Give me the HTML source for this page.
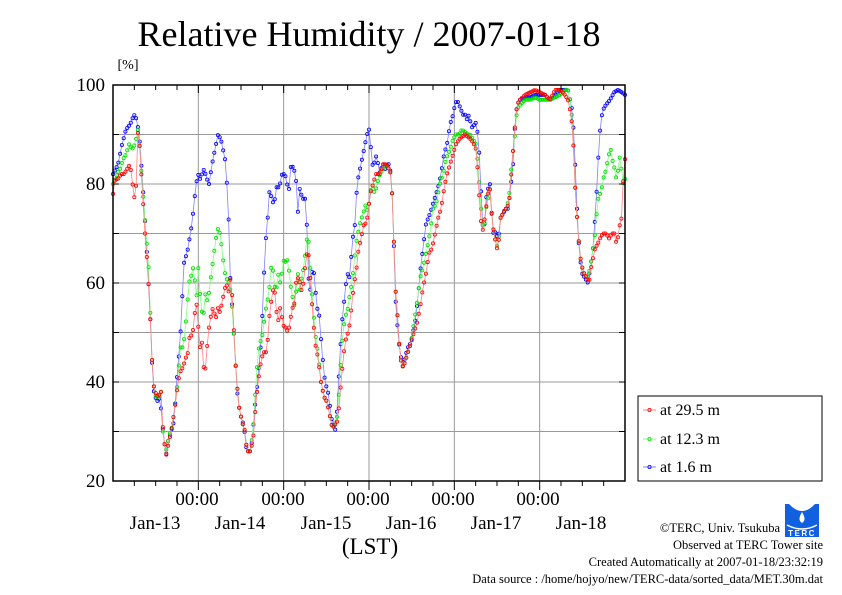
<!DOCTYPE html>
<html><head><meta charset="utf-8"><style>
html,body{margin:0;padding:0;background:#fff;}
svg{display:block;font-family:"Liberation Serif",serif;}
</style></head><body>
<svg id="s" width="842" height="595" viewBox="0 0 842 595" xmlns="http://www.w3.org/2000/svg">
<rect width="842" height="595" fill="#fff"/>
<text x="369" y="46" font-size="36" text-anchor="middle">Relative Humidity / 2007-01-18</text>
<text x="128" y="69" font-size="14" text-anchor="middle">[%]</text>
<g id="grid" stroke="#999" stroke-width="1"></g>
<g id="data"></g>
<rect x="113" y="85" width="512" height="396" fill="none" stroke="#000" stroke-width="1.5"/>
<g id="ticks" stroke="#000" stroke-width="1"></g>
<g font-size="19" text-anchor="end">
<text x="105" y="91">100</text><text x="105" y="190">80</text><text x="105" y="289">60</text><text x="105" y="388">40</text><text x="105" y="487">20</text>
</g>
<g font-size="19" text-anchor="middle">
<text x="197" y="505">00:00</text><text x="283" y="505">00:00</text><text x="368" y="505">00:00</text><text x="453" y="505">00:00</text><text x="538" y="505">00:00</text>
<text x="155" y="529">Jan-13</text><text x="240" y="529">Jan-14</text><text x="326" y="529">Jan-15</text><text x="411" y="529">Jan-16</text><text x="496" y="529">Jan-17</text><text x="581" y="529">Jan-18</text>
</g>
<text x="370" y="554" font-size="23" text-anchor="middle">(LST)</text>
<rect x="638" y="396" width="184" height="85" fill="#fff" stroke="#000" stroke-width="1"/>
<g font-size="16">
<line x1="643" y1="410" x2="656" y2="410" stroke="#ff8080"/><circle cx="649.5" cy="410" r="1.6" fill="none" stroke="#f00" stroke-width="0.8"/>
<text x="660" y="415">at 29.5 m</text>
<line x1="643" y1="439" x2="656" y2="439" stroke="#80ff80"/><circle cx="649.5" cy="439" r="1.6" fill="none" stroke="#0d0" stroke-width="0.8"/>
<text x="660" y="444">at 12.3 m</text>
<line x1="643" y1="467" x2="656" y2="467" stroke="#8080ff"/><circle cx="649.5" cy="467" r="1.6" fill="none" stroke="#00f" stroke-width="0.8"/>
<text x="660" y="472">at 1.6 m</text>
</g>
<g>
<rect x="785" y="504" width="34" height="33" fill="#1060e0"/>
<path d="M789 504 Q802 518 815 504 Z" fill="#fff"/>
<path d="M802 512 Q797 520 802 523 Q807 520 802 512 Z" fill="#fff"/>
<path d="M787 525 Q802 533 817 525" stroke="#fff" stroke-width="1.5" fill="none"/>
<text x="802" y="536" font-size="8" fill="#fff" text-anchor="middle" font-family="Liberation Sans,sans-serif" font-weight="bold" letter-spacing="1.5">TERC</text>
</g>
<g font-size="12.5" text-anchor="end">
<text x="780" y="532">©TERC, Univ. Tsukuba</text>
<text x="823" y="549">Observed at TERC Tower site</text>
<text x="823" y="566">Created Automatically at 2007-01-18/23:32:19</text>
<text x="823" y="583">Data source : /home/hojyo/new/TERC-data/sorted_data/MET.30m.dat</text>
</g>
</svg>
<script>
var NS="http://www.w3.org/2000/svg";
function el(p,t,a){var e=document.createElementNS(NS,t);for(var k in a)e.setAttribute(k,a[k]);p.appendChild(e);return e;}
var grid=document.getElementById('grid'),ticks=document.getElementById('ticks'),data=document.getElementById('data');
for(var v=30;v<100;v+=10){var y=481-(v-20)*4.95;el(grid,'line',{x1:113,x2:625,y1:y,y2:y});el(ticks,'line',{x1:113,x2:119,y1:y,y2:y});el(ticks,'line',{x1:619,x2:625,y1:y,y2:y});}
for(var i=1;i<24;i++){var x=113+i*512/24;if(i%4==0){el(grid,'line',{x1:x,x2:x,y1:85,y2:481});el(ticks,'line',{x1:x,x2:x,y1:481,y2:490});el(ticks,'line',{x1:x,x2:x,y1:85,y2:93});}else{el(ticks,'line',{x1:x,x2:x,y1:481,y2:486});el(ticks,'line',{x1:x,x2:x,y1:85,y2:90});}}
function P(s){var a=s.split(/\)\s*,?\s*\(/).map(function(t){t=t.replace(/[()]/g,'');var q=t.split(',');return [+q[0],+q[1]];});return a;}
var blue=P("(113,82),(118,84),(122,88),(126,91),(130,92),(134,94),(137,93),(140,88),(144,76),(148,62),(151,50),(153,39),(155,37),(158,36),(160,37),(163,30),(166,25),(168,28),(171,30),(174,32),(177,41),(180,48),(182,56),(184,64),(188,67),(192,72),(194,76),(196,80),(198,82),(200,81),(202,82),(204,83),(207,81),(209,80),(212,84),(215,87),(218,90),(221,89),(223,87),(225,85),(228,77),(230,62),(233,53),(236,42),(238,36),(241,33),(244,31),(246,27),(248,26),(250,26),(252,28),(255,35),(258,41),(261,48),(263,56),(265,67),(268,74),(270,80),(272,76),(275,77),(277,80),(279,79),(282,82),(285,82),(287,80),(289,79),(291,84),(294,83),(296,81),(298,74),(300,80),(302,77),(305,77),(306,78),(308,62),(310,58),(313,64),(317,55),(319,54),(322,46),(325,40),(328,38),(330,35),(332,32),(334,31),(336,30),(338,38),(340,46),(342,52),(345,58),(347,62),(350,61),(352,68),(355,72),(357,80),(359,82),(362,85),(365,88),(367,90),(369,91),(371,87),(373,83),(375,85),(377,86),(379,82),(381,83),(383,84),(385,83),(387,84),(389,84),(391,82),(393,75),(395,58),(398,50),(400,46),(403,43),(405,45),(408,47),(411,48),(415,52),(418,57),(420,62),(423,67),(426,72),(430,74),(433,76),(436,78),(439,80),(441,82),(444,86),(447,88),(450,92),(453,94),(455,96),(457,97),(459,96),(461,95),(463,94),(465,94),(467,93),(469,94),(471,92),(473,91),(475,93),(478,90),(480,84),(482,73),(484,70),(486,77),(488,79),(490,80),(492,73),(494,69),(496,71),(498,68),(500,73),(503,74),(505,75),(508,75),(510,78),(513,84),(515,92),(517,96),(520,97),(525,97.5),(530,97.5),(535,98),(540,98),(545,98),(550,97),(555,98),(560,99),(565,99),(568,99),(570,97),(572,95),(574,90),(576,80),(578,70),(580,65),(582,62),(585,61),(588,60),(591,64),(593,67),(595,73),(597,80),(599,88),(601,93),(603,95),(606,96),(610,97),(614,98.5),(618,99),(622,98.5),(625,98)");
var green=P("(113,80),(117,82),(120,83),(123,85),(126,86),(129,88),(132,87),(135,88),(138,91),(140,87),(143,78),(146,70),(149,62),(151,50),(153,40),(156,37),(159,37),(161,38),(163,29),(166,26),(169,29),(172,31),(175,35),(178,41),(180,47),(183,47),(185,50),(187,55),(189,60),(192,62),(194,64),(196,55),(198,64),(200,58),(203,52),(205,58),(208,56),(210,60),(212,63),(214,66),(216,69),(218,71),(220,70),(222,67),(224,63),(226,61),(229,60),(231,58),(233,53),(236,42),(239,35),(242,32),(245,30),(247,26),(250,26),(253,30),(256,40),(258,46),(260,48),(262,49),(264,52),(266,55),(268,57),(270,60),(272,65),(274,60),(276,58),(278,62),(280,60),(282,62),(284,65),(286,64),(288,65),(290,60),(292,58),(294,55),(296,58),(298,62),(300,58),(302,62),(304,63),(306,68),(308,70),(310,64),(312,58),(315,50),(318,46),(321,40),(324,37),(327,36),(330,33),(332,31),(334,31),(337,33),(339,38),(341,45),(343,50),(345,53),(348,55),(350,58),(352,60),(354,64),(356,68),(358,70),(360,72),(363,74),(366,76),(368,74),(370,78),(372,80),(375,78),(377,80),(380,82),(383,83),(386,84),(389,83),(391,82),(393,75),(395,60),(398,52),(400,45),(403,43),(405,44),(408,46),(411,48),(414,52),(417,56),(420,61),(423,63),(426,66),(430,70),(433,75),(436,76),(440,80),(443,82),(446,85),(450,87),(453,89),(456,90),(459,90),(462,91),(465,90.5),(468,90),(470,90),(473,89),(476,88),(478,84),(480,78),(482,72),(484,71),(486,75),(488,77),(490,79),(492,73),(494,70),(496,68),(498,67),(500,73),(503,74),(506,75),(509,77),(512,85),(515,90),(517,95),(520,96),(525,97),(530,97),(535,97.5),(540,97),(545,97),(550,97),(555,97.5),(560,98),(565,99),(568,99),(571,96),(573,90),(575,80),(578,70),(581,64),(584,62),(587,61),(589,62),(591,64),(593,67),(595,70),(597,75),(599,78),(601,78),(603,81),(605,82),(607,84),(609,86),(611,87),(613,84),(615,83),(617,80),(619,86),(621,84),(623,80),(625,81)");
var red=P("(113,78),(115,81),(118,81),(121,82),(124,82),(127,83),(130,84),(132,81),(134,77),(136,79),(138,91),(140,87),(142,80),(145,70),(148,62),(151,50),(153,40),(155,38),(158,37),(161,38),(163,30),(166,25),(169,28),(172,31),(175,35),(178,40),(180,42),(183,43),(186,45),(188,46),(190,50),(192,49),(194,52),(196,57),(198,52),(200,47),(202,48),(204,42),(206,43),(208,50),(210,52),(212,55),(214,54),(216,53),(218,55),(220,54),(222,56),(224,58),(226,60),(229,58),(231,62),(233,54),(236,42),(239,35),(242,32),(245,30),(247,26),(250,26),(253,28),(256,36),(258,40),(260,43),(262,45),(264,46),(266,46),(268,49),(270,55),(272,57),(274,60),(276,55),(278,52),(280,55),(282,53),(284,51),(286,51),(288,50),(290,52),(292,55),(294,55),(296,60),(298,61),(300,60),(302,58),(304,61),(306,65),(308,67),(310,62),(312,56),(315,48),(318,45),(321,40),(324,37),(327,36),(330,33),(332,31),(334,31),(337,32),(339,35),(341,40),(343,44),(345,48),(348,50),(350,52),(352,56),(354,60),(356,62),(358,66),(360,68),(362,70),(364,72),(366,72),(368,74),(370,78),(373,80),(376,82),(380,82),(383,84),(386,84),(389,83),(391,82),(393,75),(395,60),(398,52),(400,45),(403,43),(405,44),(408,46),(411,48),(414,50),(417,52),(420,55),(423,59),(426,62),(429,66),(432,67),(435,70),(438,73),(441,75),(444,79),(447,82),(450,84),(453,86),(456,88),(459,89),(462,89.5),(465,90),(468,89.5),(471,89),(474,88),(476,87),(478,82),(480,75),(482,70),(484,72),(486,75),(488,78),(490,79),(492,73),(494,70),(496,68),(498,66),(500,73),(503,74),(506,75),(509,76),(512,84),(515,92),(517,96),(520,97),(525,98),(530,98.5),(535,99),(540,98.5),(545,98),(550,97),(555,99),(560,99),(565,98),(568,97),(571,94),(573,90),(575,80),(578,70),(581,64),(584,62),(587,61),(589,60),(591,63),(593,65),(595,67),(598,68),(600,69),(603,70),(606,70),(609,69),(612,70),(615,70),(617,67),(619,72),(621,71),(623,80),(625,85)");
function interp(a,x){for(var i=1;i<a.length;i++){if(x<=a[i][0]){var t=(x-a[i-1][0])/(a[i][0]-a[i-1][0]);return a[i-1][1]+t*(a[i][1]-a[i-1][1]);}}return a[a.length-1][1];}
function draw(a,lc,pc){var pts=[];var step=512/288;for(var x=113;x<=625.01;x+=step){var v=interp(a,x);pts.push([x,481-(v-20)*4.95]);}
el(data,'polyline',{points:pts.map(function(p){return p[0].toFixed(1)+','+p[1].toFixed(1)}).join(' '),fill:'none',stroke:lc,'stroke-width':0.8});
var g=el(data,'g',{fill:'none',stroke:pc,'stroke-width':0.8});pts.forEach(function(p){el(g,'circle',{cx:p[0].toFixed(1),cy:p[1].toFixed(1),r:1.6});});}
draw(blue,'#8080ff','#0000ff');draw(green,'#80ff80','#00dd00');draw(red,'#ff8080','#ff0000');
</script>
</body></html>
